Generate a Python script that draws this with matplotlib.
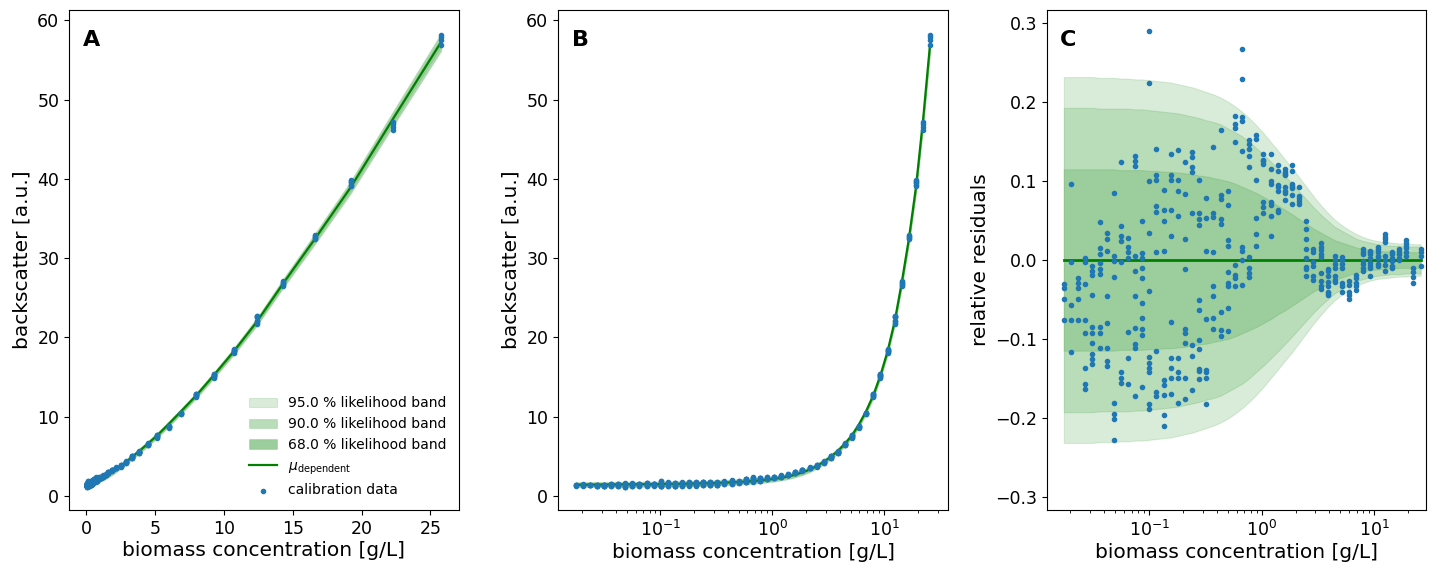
import numpy as np
import matplotlib.pyplot as plt

# biomass concentrations of the calibration series [g/L]
conc = [0.0175, 0.0203, 0.0235, 0.0271, 0.0314, 0.0363, 0.042, 0.0486, 0.0562, 0.065,
        0.0752, 0.087, 0.1006, 0.116, 0.135, 0.156, 0.18, 0.208, 0.241, 0.279,
        0.323, 0.373, 0.432, 0.5, 0.578, 0.669, 0.774, 0.895, 1.036, 1.2,
        1.39, 1.6, 1.86, 2.15, 2.49, 2.88, 3.33, 3.85, 4.46, 5.16,
        5.97, 6.9, 8.0, 9.25, 10.7, 12.4, 14.3, 16.6, 19.2, 22.3, 25.8]

# model prediction of the backscatter at each concentration
mu = [1.40, 1.41, 1.41, 1.42, 1.42, 1.43, 1.43, 1.44, 1.44, 1.45,
      1.46, 1.47, 1.48, 1.49, 1.50, 1.51, 1.53, 1.55, 1.57, 1.60,
      1.63, 1.66, 1.70, 1.75, 1.80, 1.86, 1.93, 2.02, 2.13, 2.27,
      2.44, 2.66, 2.95, 3.30, 3.75, 4.28, 4.92, 5.66, 6.58, 7.65,
      9.05, 10.7, 12.7, 15.2, 18.2, 22.0, 26.8, 32.4, 38.9, 47.6, 57.3]

# relative half widths of the likelihood bands
band95 = [0.232, 0.232, 0.232, 0.232, 0.232, 0.231, 0.231, 0.231, 0.230, 0.230,
          0.229, 0.229, 0.228, 0.227, 0.226, 0.225, 0.223, 0.221, 0.219, 0.216,
          0.213, 0.210, 0.206, 0.201, 0.195, 0.188, 0.180, 0.171, 0.161, 0.150,
          0.139, 0.128, 0.117, 0.105, 0.093, 0.081, 0.070, 0.060, 0.051, 0.044,
          0.038, 0.033, 0.029, 0.026, 0.024, 0.023, 0.022, 0.021, 0.021, 0.020, 0.020]
band90 = [0.193, 0.193, 0.193, 0.193, 0.193, 0.192, 0.192, 0.192, 0.192, 0.192,
          0.191, 0.191, 0.190, 0.189, 0.188, 0.187, 0.186, 0.184, 0.182, 0.180,
          0.177, 0.175, 0.172, 0.167, 0.162, 0.157, 0.150, 0.142, 0.134, 0.125,
          0.116, 0.107, 0.097, 0.087, 0.077, 0.067, 0.058, 0.050, 0.042, 0.037,
          0.032, 0.027, 0.024, 0.022, 0.020, 0.019, 0.018, 0.018, 0.017, 0.017, 0.017]
band68 = [0.115, 0.115, 0.115, 0.115, 0.115, 0.115, 0.115, 0.115, 0.114, 0.114,
          0.114, 0.114, 0.113, 0.113, 0.112, 0.112, 0.111, 0.110, 0.109, 0.107,
          0.106, 0.104, 0.102, 0.100, 0.097, 0.093, 0.089, 0.085, 0.080, 0.075,
          0.069, 0.064, 0.058, 0.052, 0.046, 0.040, 0.035, 0.030, 0.025, 0.022,
          0.019, 0.016, 0.014, 0.013, 0.012, 0.011, 0.011, 0.010, 0.010, 0.010, 0.010]

# relative residuals of the replicate measurements, one list per concentration
residuals = [
    [-0.030, -0.036, -0.050, -0.076],
    [0.097, -0.003, -0.057, -0.076, -0.117],
    [-0.023, -0.029, -0.036, -0.050, -0.076],
    [0.003, -0.003, -0.031, -0.076, -0.092, -0.137, -0.157, -0.164],
    [-0.008, -0.014, -0.019, -0.045, -0.085, -0.092, -0.105, -0.119, -0.125, -0.132],
    [0.048, 0.015, 0.008, -0.004, -0.011, -0.018, -0.085, -0.092, -0.111],
    [0.034, 0.027, 0.012, -0.046, -0.080, -0.112, -0.128, -0.134],
    [0.085, 0.005, -0.001, -0.021, -0.181, -0.195, -0.202, -0.228],
    [0.124, 0.043, 0.030, 0.024, -0.003, -0.142, -0.149, -0.156],
    [0.028, 0.016, 0.010, 0.002, -0.091, -0.124, -0.157],
    [0.132, 0.126, 0.119, 0.005, -0.014, -0.046, -0.086, -0.106, -0.112, -0.172],
    [0.050, 0.009, 0.002, -0.010, -0.023, -0.055, -0.074, -0.088, -0.095, -0.161],
    [0.291, 0.225, 0.100, 0.034, -0.039, -0.123, -0.131, -0.137, -0.142, -0.183, -0.189],
    [0.141, 0.108, 0.101, 0.068, 0.061, 0.010, -0.115, -0.168, -0.173],
    [0.089, 0.063, 0.050, 0.011, -0.152, -0.158, -0.171, -0.197, -0.211],
    [0.135, 0.108, 0.102, 0.063, 0.030, -0.078, -0.124, -0.137, -0.149, -0.170],
    [0.140, 0.101, 0.087, 0.056, -0.124, -0.142, -0.149, -0.181],
    [0.124, 0.084, 0.027, -0.011, -0.087, -0.092, -0.105, -0.149, -0.176],
    [0.137, 0.131, 0.118, 0.112, 0.060, -0.108, -0.122, -0.165],
    [0.102, 0.060, 0.052, 0.045, -0.051, -0.063, -0.102, -0.113, -0.138, -0.141, -0.151],
    [0.078, 0.053, 0.011, -0.075, -0.140, -0.142, -0.149, -0.182],
    [0.143, 0.059, 0.055, 0.010, -0.033, -0.046, -0.074, -0.087],
    [0.165, 0.083, 0.077, 0.052, 0.046, -0.066, -0.089, -0.096],
    [0.087, 0.070, 0.025, 0.018, -0.015, -0.029, -0.033, -0.061, -0.090],
    [0.182, 0.172, 0.167, 0.149, -0.006, -0.019, -0.023, -0.033],
    [0.268, 0.230, 0.181, 0.176, 0.138, 0.017, 0.012, 0.000, -0.032],
    [0.152, 0.147, 0.141, 0.132, 0.118, 0.004, -0.010, -0.017, -0.022],
    [0.159, 0.154, 0.102, 0.053, 0.033, 0.018],
    [0.134, 0.127, 0.125, 0.122, 0.074, 0.067, 0.059],
    [0.134, 0.115, 0.100, 0.096, 0.073, 0.070, 0.056, 0.031],
    [0.120, 0.113, 0.095, 0.093, 0.088, 0.063, 0.061],
    [0.116, 0.112, 0.109, 0.108, 0.092, 0.087, 0.085, 0.076],
    [0.121, 0.113, 0.096, 0.094, 0.091, 0.083, 0.071],
    [0.092, 0.081, 0.078, 0.075, 0.071],
    [0.050, 0.039, 0.027, 0.014, 0.003, -0.009, -0.011, -0.020],
    [0.014, 0.010, -0.003, -0.008, -0.020, -0.025],
    [0.021, 0.017, 0.013, 0.008, 0.004, -0.016, -0.026, -0.033, -0.037],
    [-0.011, -0.014, -0.020, -0.028, -0.033, -0.040, -0.042, -0.045],
    [0.005, 0.000, -0.005, -0.010, -0.020, -0.025, -0.028],
    [0.004, 0.000, -0.005, -0.010, -0.029, -0.033, -0.040],
    [-0.026, -0.032, -0.041, -0.045, -0.049],
    [-0.019, -0.023, -0.029, -0.033, -0.038],
    [0.014, 0.010, 0.007, -0.001, -0.005, -0.010, -0.014],
    [0.012, 0.010, 0.007, 0.003, -0.004, -0.007, -0.010, -0.020],
    [0.017, 0.014, 0.010, 0.005, 0.003, -0.005, -0.008],
    [0.033, 0.029, 0.026, 0.023, 0.005, 0.000, -0.006, -0.014],
    [0.010, 0.007, 0.003, -0.001, -0.007, -0.010],
    [0.014, 0.011, 0.008, 0.003, 0.000],
    [0.025, 0.021, 0.018, 0.015, 0.010, 0.005],
    [-0.010, -0.015, -0.021, -0.029],
    [0.014, 0.010, 0.005, -0.008],
]

band_levels = [95.0, 90.0, 68.0]
band_widths = [band95, band90, band68]
band_colors = ['#d9ecd9', '#b9dcb9', '#9ccd9c']

x = np.array(conc)
m = np.array(mu)
x_data = np.concatenate([[c] * len(r) for c, r in zip(conc, residuals)])
r_data = np.concatenate(residuals)
mu_data = np.concatenate([[v] * len(r) for v, r in zip(mu, residuals)])
y_data = mu_data * (1 + r_data)

TICK = 12.5
LABEL = 14.5

fig = plt.figure(figsize=(14.42, 5.62), dpi=100)
ax_a = fig.add_axes([69 / 1442, 52 / 562, 390 / 1442, 500 / 562])
ax_b = fig.add_axes([558 / 1442, 52 / 562, 390 / 1442, 500 / 562])
ax_c = fig.add_axes([1047 / 1442, 52 / 562, 379 / 1442, 500 / 562])

for ax in (ax_a, ax_b):
    for lvl, w, col in zip(band_levels, band_widths, band_colors):
        w = np.array(w)
        ax.fill_between(x, m * (1 - w), m * (1 + w), facecolor=col,
                        edgecolor=(0, 0.5, 0, 0.12), linewidth=0.8,
                        label=f'{lvl:.1f} % likelihood band')
    ax.plot(x, m, color='green', lw=1.6, label=r'$\mu_\mathrm{dependent}$')
    ax.scatter(x_data, y_data, s=9, color='#1f77b4', zorder=3,
               label='calibration data')
    ax.set_ylabel('backscatter [a.u.]', fontsize=LABEL)

ax_b.set_xscale('log')

for lvl, w, col in zip(band_levels, band_widths, band_colors):
    w = np.array(w)
    ax_c.fill_between(x, -w, w, facecolor=col, edgecolor=(0, 0.5, 0, 0.12),
                      linewidth=0.8)
ax_c.plot(x, np.zeros_like(x), color='green', lw=2)
ax_c.scatter(x_data, r_data, s=9, color='#1f77b4', zorder=3)
ax_c.set_xscale('log')
ax_c.set_xlim(0.0124, 28.8)
ax_c.set_ylim(-0.317, 0.317)
ax_c.set_ylabel('relative residuals', fontsize=LABEL)

ax_a.legend(loc='lower right', frameon=False, fontsize=10, scatterpoints=1)

for ax, letter in zip((ax_a, ax_b, ax_c), 'ABC'):
    ax.set_xlabel('biomass concentration [g/L]', fontsize=LABEL, labelpad=2)
    ax.tick_params(labelsize=TICK)
    ax.text(0.035, 0.96, letter, transform=ax.transAxes, fontsize=16,
            fontweight='bold', va='top', ha='left')

fig.savefig('out.png', dpi=100)
